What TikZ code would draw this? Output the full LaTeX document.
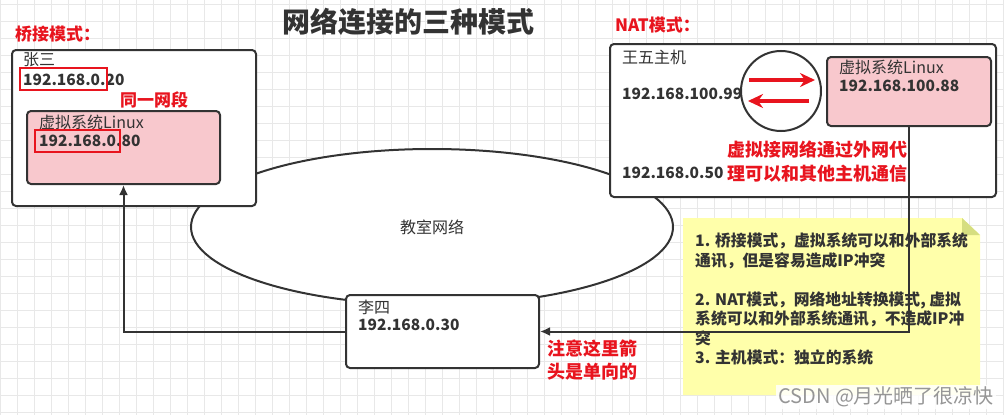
\documentclass[tikz,border=0pt]{standalone}
\usepackage{fontspec}
\setmainfont{Noto Sans CJK SC}
\usetikzlibrary{arrows.meta,shapes.geometric}
\definecolor{inkgray}{RGB}{51,51,51}
\definecolor{notered}{RGB}{232,20,30}
\definecolor{vmpink}{RGB}{248,200,205}
\definecolor{noteyellow}{RGB}{255,255,170}
\definecolor{notefold}{RGB}{214,222,128}
\definecolor{gridgray}{RGB}{232,232,232}
\definecolor{markgray}{RGB}{150,150,150}

\begin{document}
\begin{tikzpicture}[x=1pt,y=-1pt,
        hostbox/.style={draw=inkgray, line width=2pt, rounded corners=4pt, fill=white, inner sep=0pt},
        vmbox/.style={hostbox, fill=vmpink},
        plain/.style={anchor=west, inner sep=0pt, text=inkgray, font=\fontsize{16}{18}\selectfont},
        ipaddr/.style={plain, font=\bfseries\fontsize{15.5}{18}\selectfont},
        redtext/.style={anchor=west, inner sep=0pt, text=notered, align=left, font=\bfseries\fontsize{17}{21}\selectfont},
        markbox/.style={draw=notered, line width=2pt, inner sep=0pt},
        link/.style={draw=inkgray, line width=2pt, -{Latex[length=10pt,width=9pt]}},
        redswap/.style={draw=notered, line width=4pt, -{Stealth[length=15pt,width=14pt]}}
    ]
        \fill[white] (0,0) rectangle (1004,415);
        \useasboundingbox (0,0) rectangle (1004,415);
        \foreach \gx in {0,17,...,1003}
            \draw[gridgray, line width=0.8pt] (\gx,0) -- (\gx,415);
        \foreach \gy in {4,21,...,414}
            \draw[gridgray, line width=0.8pt] (0,\gy) -- (1004,\gy);

        \node[ellipse, draw=inkgray, line width=2pt, fill=white, minimum width=482pt, minimum height=156pt,
            text=inkgray, font=\fontsize{16}{18}\selectfont] (net) at (432,227) {教室网络};

        \node[hostbox, minimum width=244pt, minimum height=156pt] (zs) at (134,128) {};
        \node[vmbox, minimum width=193pt, minimum height=73pt] (zsvm) at (123.5,147.5) {};
        \node[hostbox, minimum width=193pt, minimum height=73pt] (ls) at (442.5,331.5) {};
        \node[hostbox, minimum width=386pt, minimum height=153pt] (ww) at (803,120.5) {};
        \node[vmbox, minimum width=164pt, minimum height=69pt] (wwvm) at (909,91.5) {};
        \node[circle, draw=inkgray, line width=2pt, fill=white, minimum size=80pt] (nat) at (781,91) {};

        \fill[noteyellow] (683,218) -- (962,218) -- (980,235) -- (980,395) -- (683,395) -- cycle;
        \fill[notefold] (962,218) -- (980,235) -- (962,235) -- cycle;

        \draw[link] (ls.west) -| (zsvm.south);
        \draw[link] (wwvm.south) |- (ls.east);
        \draw[redswap] ([shift={(-32,-11)}]nat.center) -- ([shift={(34,-11)}]nat.center);
        \draw[redswap] ([shift={(28,10)}]nat.center) -- ([shift={(-33,10)}]nat.center);

        \node[text=inkgray, font=\bfseries\fontsize{28}{30}\selectfont] (title) at (408,22) {网络连接的三种模式};
        \node[redtext] (bridgelbl) at (15,34) {桥接模式：};
        \node[plain] (zsname) at (23,60) {张三};
        \node[ipaddr] (zsip) at (23,79.5) {192.168.0.20};
        \node[markbox, minimum width=87pt, minimum height=22pt] (zsmark) at (63.5,79) {};
        \node[redtext] (samenet) at (120,100) {同一网段};
        \node[plain] (zsvmname) at (39,122) {虚拟系统Linux};
        \node[ipaddr] (zsvmip) at (39,141) {192.168.0.80};
        \node[markbox, minimum width=85pt, minimum height=22pt] (zsvmmark) at (77.5,141) {};

        \node[redtext] (natlbl) at (615,25) {NAT模式：};
        \node[plain] (wwname) at (622,57) {王五主机};
        \node[ipaddr] (wwip) at (622,94) {192.168.100.99};
        \node[ipaddr] (wwlan) at (622,173) {192.168.0.50};
        \node[plain] (wwvmname) at (839,67) {虚拟系统Linux};
        \node[ipaddr] (wwvmip) at (839,86) {192.168.100.88};
        \node[redtext, font=\bfseries\fontsize{18}{23.5}\selectfont] (natnote) at (727,161.5) {虚拟接网络通过外网代\\理可以和其他主机通信};

        \node[plain] (lsname) at (358,307) {李四};
        \node[ipaddr] (lsip) at (358,325) {192.168.0.30};
        \node[redtext, font=\bfseries\fontsize{18}{23}\selectfont] (oneway) at (547,360.5) {注意这里箭\\头是单向的};

        \node[anchor=north west, inner sep=0pt, align=left, text=inkgray, font=\bfseries\fontsize{15.8}{19.5}\selectfont] (notetext) at (695,233) {1. 桥接模式，虚拟系统可以和外部系统\\通讯，但是容易造成IP冲突\\[19.5pt]2. NAT模式，网络地址转换模式, 虚拟\\系统可以和外部系统通讯，不造成IP冲\\突\\3. 主机模式：独立的系统};

        \node[anchor=west, inner sep=2pt, fill=white, fill opacity=0.85, text opacity=1, text=markgray, font=\fontsize{20}{22}\selectfont] (mark) at (776,397) {CSDN @月光晒了很凉快};
    \end{tikzpicture}
\end{document}
